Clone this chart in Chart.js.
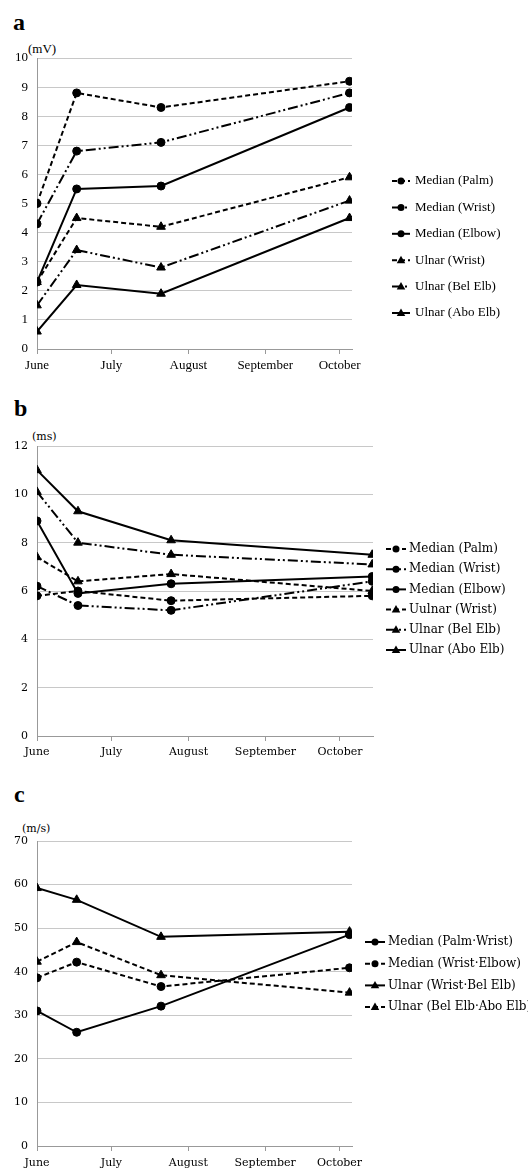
<!DOCTYPE html>
<html>
<head>
<meta charset="utf-8">
<script src="https://cdn.jsdelivr.net/npm/chart.js@4"></script>
<style>
html,body{margin:0;padding:0;background:#fff;width:528px;height:1169px;overflow:hidden;}
canvas{position:absolute;left:0;}
.t{position:absolute;color:#000;white-space:nowrap;}
.pl{font-family:"Liberation Serif",serif;font-weight:bold;font-size:24px;line-height:24px;}
</style>
</head>
<body>
<div class="t pl" style="left:13px;top:10px;">a</div>
<div class="t" style="left:28px;top:42px;font-family:'Liberation Serif',serif;font-size:13px;line-height:13px;">(mV)</div>
<canvas id="ca" width="528" height="375" style="top:0px;"></canvas>

<div class="t pl" style="left:14px;top:396px;">b</div>
<div class="t" style="left:32px;top:431px;font-family:'DejaVu Serif',serif;font-size:11px;line-height:11px;">(ms)</div>
<canvas id="cb" width="528" height="382" style="top:380px;"></canvas>

<div class="t pl" style="left:14px;top:782px;">c</div>
<div class="t" style="left:22px;top:823px;font-family:'DejaVu Serif',serif;font-size:11px;line-height:11px;">(m/s)</div>
<canvas id="cc" width="528" height="399" style="top:770px;"></canvas>

<script>
// ---- shared x axis (days from June 1) ----
const monthLabels = ['June', 'July', 'August', 'September', 'October'];
const monthTickDays = [0, 30, 61, 92, 122];

// ---- panel a: amplitude (mV) ----
const daysA = [0, 16, 50, 126];
const aLabels = ['Median (Palm)', 'Median (Wrist)', 'Median (Elbow)', 'Ulnar (Wrist)', 'Ulnar (Bel Elb)', 'Ulnar (Abo Elb)'];
const aMedianPalm  = [5.0, 8.8, 8.3, 9.2];
const aMedianWrist = [4.3, 6.8, 7.1, 8.8];
const aMedianElbow = [2.3, 5.5, 5.6, 8.3];
const aUlnarWrist  = [2.3, 4.5, 4.2, 5.9];
const aUlnarBel    = [1.5, 3.4, 2.8, 5.1];
const aUlnarAbo    = [0.6, 2.2, 1.9, 4.5];
const aTicks = [0, 1, 2, 3, 4, 5, 6, 7, 8, 9, 10];

// ---- panel b: latency (ms) ----
const daysB = [0, 16.5, 54, 135];
const bLabels = ['Median (Palm)', 'Median (Wrist)', 'Median (Elbow)', 'Uulnar (Wrist)', 'Ulnar (Bel Elb)', 'Ulnar (Abo Elb)'];
const bMedianPalm  = [5.8, 6.0, 5.6, 5.8];
const bMedianWrist = [6.2, 5.4, 5.2, 6.4];
const bMedianElbow = [8.9, 5.9, 6.3, 6.6];
const bUlnarWrist  = [7.4, 6.4, 6.7, 6.0];
const bUlnarBel    = [10.1, 8.0, 7.5, 7.1];
const bUlnarAbo    = [11.0, 9.3, 8.1, 7.5];
const bTicks = [0, 2, 4, 6, 8, 10, 12];

// ---- panel c: conduction velocity (m/s) ----
const daysC = [0, 16, 50, 126];
const cLabels = ['Median (Palm\u00B7Wrist)', 'Median (Wrist\u00B7Elbow)', 'Ulnar (Wrist\u00B7Bel Elb)', 'Ulnar (Bel Elb\u00B7Abo Elb)'];
const cMedianPalmWrist  = [31.0, 26.1, 32.1, 48.5];
const cMedianWristElbow = [38.6, 42.2, 36.6, 40.9];
const cUlnarWristBel    = [59.2, 56.5, 48.0, 49.2];
const cUlnarBelAbo      = [42.3, 46.8, 39.2, 35.2];
const cTicks = [0, 10, 20, 30, 40, 50, 60, 70];

// ---- styles ----
const SOLID = [];
const DASH = [5, 3];
const DASHDOT = [10, 3, 2, 3, 2, 3];

function pts(days, vals) { return vals.map((v, i) => ({ x: days[i], y: v })); }
function ds(label, days, vals, dash, shape) {
  return {
    label: label, data: pts(days, vals), borderColor: '#000', backgroundColor: '#000',
    borderWidth: 2, borderDash: dash, pointStyle: shape,
    pointRadius: shape === 'triangle' ? 5 : 4, pointBorderWidth: 1,
    pointBackgroundColor: '#000', pointBorderColor: '#000', tension: 0, fill: false
  };
}

function drawMarker(ctx, shape, x, y, r) {
  ctx.beginPath();
  if (shape === 'circle') {
    ctx.arc(x, y, r, 0, Math.PI * 2);
  } else {
    ctx.moveTo(x, y - r);
    ctx.lineTo(x + r * 0.95, y + r * 0.65);
    ctx.lineTo(x - r * 0.95, y + r * 0.65);
    ctx.closePath();
  }
  ctx.fill();
}

const sideLegend = {
  id: 'sideLegend',
  afterDraw(chart, args, o) {
    const ctx = chart.ctx;
    ctx.save();
    chart.data.datasets.forEach((d, i) => {
      const y = o.top + i * o.gap;
      ctx.strokeStyle = '#000'; ctx.fillStyle = '#000'; ctx.lineWidth = 2;
      ctx.setLineDash(d.borderDash);
      ctx.beginPath(); ctx.moveTo(o.left, y); ctx.lineTo(o.left + o.len, y); ctx.stroke();
      ctx.setLineDash([]);
      drawMarker(ctx, d.pointStyle, o.left + o.len / 2, y, d.pointStyle === 'triangle' ? 4.5 : 3.5);
      ctx.font = o.font; ctx.textBaseline = 'middle'; ctx.textAlign = 'left';
      ctx.fillText(d.label, o.left + o.len + o.textGap, y);
    });
    ctx.restore();
  }
};

function makeChart(id, datasets, cfg) {
  return new Chart(document.getElementById(id), {
    type: 'line',
    data: { datasets: datasets },
    plugins: [sideLegend],
    options: {
      responsive: false, animation: false, devicePixelRatio: 1,
      layout: { padding: { top: cfg.padTop, right: cfg.padRight, bottom: 0, left: 0 } },
      plugins: {
        legend: { display: false }, tooltip: { enabled: false },
        sideLegend: cfg.legend
      },
      scales: {
        x: {
          type: 'linear', min: 0, max: cfg.xMax,
          afterBuildTicks: s => { s.ticks = monthTickDays.map(v => ({ value: v })); },
          afterFit: s => { s.height = cfg.xHeight; },
          ticks: {
            callback: (v, i) => monthLabels[i], maxRotation: 0, autoSkip: false,
            color: '#000', font: { family: cfg.family, size: cfg.size }, padding: cfg.xPad
          },
          grid: { drawOnChartArea: false, drawTicks: true, tickLength: 5, color: '#999', lineWidth: 1 },
          border: { display: true, color: '#999', width: 1 }
        },
        y: {
          min: cfg.yTicks[0], max: cfg.yTicks[cfg.yTicks.length - 1],
          afterBuildTicks: s => { s.ticks = cfg.yTicks.map(v => ({ value: v })); },
          afterFit: s => { s.width = 37; },
          ticks: { color: '#000', font: { family: cfg.family, size: cfg.size }, padding: 9 },
          grid: { drawTicks: false, color: '#c8c8c8', lineWidth: 1 },
          border: { display: true, color: '#999', width: 1 }
        }
      }
    }
  });
}

makeChart('ca', [
  ds(aLabels[0], daysA, aMedianPalm, DASH, 'circle'),
  ds(aLabels[1], daysA, aMedianWrist, DASHDOT, 'circle'),
  ds(aLabels[2], daysA, aMedianElbow, SOLID, 'circle'),
  ds(aLabels[3], daysA, aUlnarWrist, DASH, 'triangle'),
  ds(aLabels[4], daysA, aUlnarBel, DASHDOT, 'triangle'),
  ds(aLabels[5], daysA, aUlnarAbo, SOLID, 'triangle')
], {
  padTop: 58, padRight: 176, xHeight: 26, xMax: 127, yTicks: aTicks, xPad: 4,
  family: 'Liberation Serif', size: 13,
  legend: { left: 392, top: 181, gap: 26.4, len: 18, textGap: 5, font: '13px "Liberation Serif"' }
});

makeChart('cb', [
  ds(bLabels[0], daysB, bMedianPalm, DASH, 'circle'),
  ds(bLabels[1], daysB, bMedianWrist, DASHDOT, 'circle'),
  ds(bLabels[2], daysB, bMedianElbow, SOLID, 'circle'),
  ds(bLabels[3], daysB, bUlnarWrist, DASH, 'triangle'),
  ds(bLabels[4], daysB, bUlnarBel, DASHDOT, 'triangle'),
  ds(bLabels[5], daysB, bUlnarAbo, SOLID, 'triangle')
], {
  padTop: 66, padRight: 155, xHeight: 26, xMax: 135.3, yTicks: bTicks, xPad: 5,
  family: 'DejaVu Serif', size: 11,
  legend: { left: 386, top: 169, gap: 20.2, len: 20, textGap: 3, font: '12px "DejaVu Serif"' }
});

makeChart('cc', [
  ds(cLabels[0], daysC, cMedianPalmWrist, SOLID, 'circle'),
  ds(cLabels[1], daysC, cMedianWristElbow, DASH, 'circle'),
  ds(cLabels[2], daysC, cUlnarWristBel, SOLID, 'triangle'),
  ds(cLabels[3], daysC, cUlnarBelAbo, DASH, 'triangle')
], {
  padTop: 71, padRight: 176, xHeight: 23, xMax: 127, yTicks: cTicks, xPad: 6,
  family: 'DejaVu Serif', size: 11,
  legend: { left: 365, top: 172, gap: 21.7, len: 20, textGap: 3, font: '12px "DejaVu Serif"' }
});
</script>
</body>
</html>
